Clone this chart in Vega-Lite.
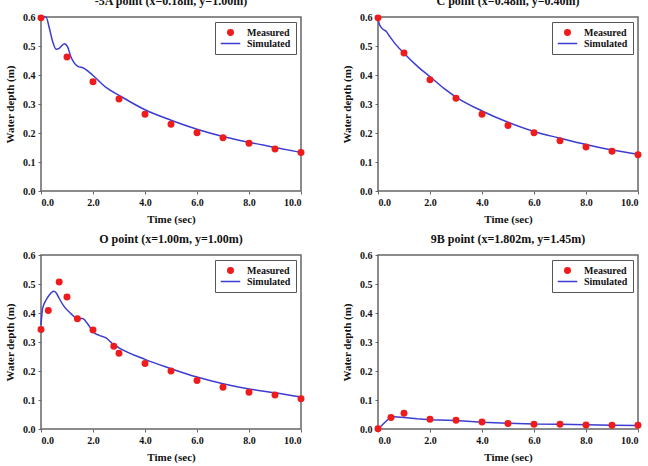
{
  "$schema": "https://vega.github.io/schema/vega-lite/v6.json",
  "padding": {"left": 3, "top": -6, "right": 0, "bottom": 0},
  "background": "white",
  "data": {
    "values": [
      {"panel": "-5A", "series": "Measured", "t": 0, "depth": 0.597},
      {"panel": "-5A", "series": "Measured", "t": 1, "depth": 0.462},
      {"panel": "-5A", "series": "Measured", "t": 2, "depth": 0.377},
      {"panel": "-5A", "series": "Measured", "t": 3, "depth": 0.317},
      {"panel": "-5A", "series": "Measured", "t": 4, "depth": 0.265},
      {"panel": "-5A", "series": "Measured", "t": 5, "depth": 0.23},
      {"panel": "-5A", "series": "Measured", "t": 6, "depth": 0.201},
      {"panel": "-5A", "series": "Measured", "t": 7, "depth": 0.184},
      {"panel": "-5A", "series": "Measured", "t": 8, "depth": 0.165},
      {"panel": "-5A", "series": "Measured", "t": 9, "depth": 0.145},
      {"panel": "-5A", "series": "Measured", "t": 10, "depth": 0.133},

      {"panel": "C", "series": "Measured", "t": 0, "depth": 0.597},
      {"panel": "C", "series": "Measured", "t": 1, "depth": 0.476},
      {"panel": "C", "series": "Measured", "t": 2, "depth": 0.384},
      {"panel": "C", "series": "Measured", "t": 3, "depth": 0.32},
      {"panel": "C", "series": "Measured", "t": 4, "depth": 0.265},
      {"panel": "C", "series": "Measured", "t": 5, "depth": 0.226},
      {"panel": "C", "series": "Measured", "t": 6, "depth": 0.201},
      {"panel": "C", "series": "Measured", "t": 7, "depth": 0.173},
      {"panel": "C", "series": "Measured", "t": 8, "depth": 0.152},
      {"panel": "C", "series": "Measured", "t": 9, "depth": 0.137},
      {"panel": "C", "series": "Measured", "t": 10, "depth": 0.125},

      {"panel": "O", "series": "Measured", "t": 0, "depth": 0.343},
      {"panel": "O", "series": "Measured", "t": 0.28, "depth": 0.409},
      {"panel": "O", "series": "Measured", "t": 0.7, "depth": 0.507},
      {"panel": "O", "series": "Measured", "t": 1.0, "depth": 0.455},
      {"panel": "O", "series": "Measured", "t": 1.4, "depth": 0.38},
      {"panel": "O", "series": "Measured", "t": 2.0, "depth": 0.341},
      {"panel": "O", "series": "Measured", "t": 2.8, "depth": 0.285},
      {"panel": "O", "series": "Measured", "t": 3.0, "depth": 0.261},
      {"panel": "O", "series": "Measured", "t": 4, "depth": 0.226},
      {"panel": "O", "series": "Measured", "t": 5, "depth": 0.2},
      {"panel": "O", "series": "Measured", "t": 6, "depth": 0.167},
      {"panel": "O", "series": "Measured", "t": 7, "depth": 0.144},
      {"panel": "O", "series": "Measured", "t": 8, "depth": 0.127},
      {"panel": "O", "series": "Measured", "t": 9, "depth": 0.117},
      {"panel": "O", "series": "Measured", "t": 10, "depth": 0.104},

      {"panel": "9B", "series": "Measured", "t": 0, "depth": 0.001},
      {"panel": "9B", "series": "Measured", "t": 0.5, "depth": 0.04},
      {"panel": "9B", "series": "Measured", "t": 1, "depth": 0.054},
      {"panel": "9B", "series": "Measured", "t": 2, "depth": 0.034},
      {"panel": "9B", "series": "Measured", "t": 3, "depth": 0.03},
      {"panel": "9B", "series": "Measured", "t": 4, "depth": 0.024},
      {"panel": "9B", "series": "Measured", "t": 5, "depth": 0.019},
      {"panel": "9B", "series": "Measured", "t": 6, "depth": 0.016},
      {"panel": "9B", "series": "Measured", "t": 7, "depth": 0.016},
      {"panel": "9B", "series": "Measured", "t": 8, "depth": 0.014},
      {"panel": "9B", "series": "Measured", "t": 9, "depth": 0.013},
      {"panel": "9B", "series": "Measured", "t": 10, "depth": 0.013},

      {"panel": "-5A", "series": "Simulated", "t": 0, "depth": 0.6},
      {"panel": "-5A", "series": "Simulated", "t": 0.19, "depth": 0.6},
      {"panel": "-5A", "series": "Simulated", "t": 0.32, "depth": 0.562},
      {"panel": "-5A", "series": "Simulated", "t": 0.45, "depth": 0.515},
      {"panel": "-5A", "series": "Simulated", "t": 0.58, "depth": 0.489},
      {"panel": "-5A", "series": "Simulated", "t": 0.7, "depth": 0.492},
      {"panel": "-5A", "series": "Simulated", "t": 0.9, "depth": 0.508},
      {"panel": "-5A", "series": "Simulated", "t": 1.02, "depth": 0.498},
      {"panel": "-5A", "series": "Simulated", "t": 1.15, "depth": 0.463},
      {"panel": "-5A", "series": "Simulated", "t": 1.4, "depth": 0.431},
      {"panel": "-5A", "series": "Simulated", "t": 1.66, "depth": 0.423},
      {"panel": "-5A", "series": "Simulated", "t": 1.98, "depth": 0.4},
      {"panel": "-5A", "series": "Simulated", "t": 2.5, "depth": 0.357},
      {"panel": "-5A", "series": "Simulated", "t": 3, "depth": 0.33},
      {"panel": "-5A", "series": "Simulated", "t": 4, "depth": 0.28},
      {"panel": "-5A", "series": "Simulated", "t": 5, "depth": 0.244},
      {"panel": "-5A", "series": "Simulated", "t": 6, "depth": 0.213},
      {"panel": "-5A", "series": "Simulated", "t": 7, "depth": 0.188},
      {"panel": "-5A", "series": "Simulated", "t": 8, "depth": 0.168},
      {"panel": "-5A", "series": "Simulated", "t": 9, "depth": 0.15},
      {"panel": "-5A", "series": "Simulated", "t": 10, "depth": 0.133},

      {"panel": "C", "series": "Simulated", "t": 0, "depth": 0.597},
      {"panel": "C", "series": "Simulated", "t": 0.06, "depth": 0.573},
      {"panel": "C", "series": "Simulated", "t": 0.19, "depth": 0.558},
      {"panel": "C", "series": "Simulated", "t": 0.32, "depth": 0.55},
      {"panel": "C", "series": "Simulated", "t": 0.45, "depth": 0.533},
      {"panel": "C", "series": "Simulated", "t": 0.64, "depth": 0.51},
      {"panel": "C", "series": "Simulated", "t": 1, "depth": 0.475},
      {"panel": "C", "series": "Simulated", "t": 1.53, "depth": 0.429},
      {"panel": "C", "series": "Simulated", "t": 2, "depth": 0.394},
      {"panel": "C", "series": "Simulated", "t": 2.55, "depth": 0.353},
      {"panel": "C", "series": "Simulated", "t": 3, "depth": 0.324},
      {"panel": "C", "series": "Simulated", "t": 4, "depth": 0.276},
      {"panel": "C", "series": "Simulated", "t": 5, "depth": 0.237},
      {"panel": "C", "series": "Simulated", "t": 6, "depth": 0.205},
      {"panel": "C", "series": "Simulated", "t": 7, "depth": 0.182},
      {"panel": "C", "series": "Simulated", "t": 8, "depth": 0.16},
      {"panel": "C", "series": "Simulated", "t": 9, "depth": 0.141},
      {"panel": "C", "series": "Simulated", "t": 10, "depth": 0.127},

      {"panel": "O", "series": "Simulated", "t": 0, "depth": 0.358},
      {"panel": "O", "series": "Simulated", "t": 0.06, "depth": 0.415},
      {"panel": "O", "series": "Simulated", "t": 0.19, "depth": 0.444},
      {"panel": "O", "series": "Simulated", "t": 0.32, "depth": 0.462},
      {"panel": "O", "series": "Simulated", "t": 0.49, "depth": 0.475},
      {"panel": "O", "series": "Simulated", "t": 0.58, "depth": 0.47},
      {"panel": "O", "series": "Simulated", "t": 0.7, "depth": 0.45},
      {"panel": "O", "series": "Simulated", "t": 0.9, "depth": 0.421},
      {"panel": "O", "series": "Simulated", "t": 1.15, "depth": 0.398},
      {"panel": "O", "series": "Simulated", "t": 1.4, "depth": 0.381},
      {"panel": "O", "series": "Simulated", "t": 1.6, "depth": 0.381},
      {"panel": "O", "series": "Simulated", "t": 1.79, "depth": 0.363},
      {"panel": "O", "series": "Simulated", "t": 2.05, "depth": 0.331},
      {"panel": "O", "series": "Simulated", "t": 2.24, "depth": 0.323},
      {"panel": "O", "series": "Simulated", "t": 2.5, "depth": 0.314},
      {"panel": "O", "series": "Simulated", "t": 2.75, "depth": 0.294},
      {"panel": "O", "series": "Simulated", "t": 3, "depth": 0.28},
      {"panel": "O", "series": "Simulated", "t": 4, "depth": 0.24},
      {"panel": "O", "series": "Simulated", "t": 5, "depth": 0.208},
      {"panel": "O", "series": "Simulated", "t": 6, "depth": 0.179},
      {"panel": "O", "series": "Simulated", "t": 7, "depth": 0.156},
      {"panel": "O", "series": "Simulated", "t": 8, "depth": 0.138},
      {"panel": "O", "series": "Simulated", "t": 9, "depth": 0.125},
      {"panel": "O", "series": "Simulated", "t": 10, "depth": 0.11},

      {"panel": "9B", "series": "Simulated", "t": 0, "depth": 0},
      {"panel": "9B", "series": "Simulated", "t": 0.5, "depth": 0.043},
      {"panel": "9B", "series": "Simulated", "t": 1, "depth": 0.04},
      {"panel": "9B", "series": "Simulated", "t": 1.5, "depth": 0.035},
      {"panel": "9B", "series": "Simulated", "t": 2, "depth": 0.032},
      {"panel": "9B", "series": "Simulated", "t": 3, "depth": 0.029},
      {"panel": "9B", "series": "Simulated", "t": 4, "depth": 0.023},
      {"panel": "9B", "series": "Simulated", "t": 5, "depth": 0.02},
      {"panel": "9B", "series": "Simulated", "t": 6, "depth": 0.017},
      {"panel": "9B", "series": "Simulated", "t": 7, "depth": 0.016},
      {"panel": "9B", "series": "Simulated", "t": 8, "depth": 0.015},
      {"panel": "9B", "series": "Simulated", "t": 9, "depth": 0.013},
      {"panel": "9B", "series": "Simulated", "t": 10, "depth": 0.012}
    ]
  },
  "columns": 2,
  "spacing": {"column": 32, "row": 7},
  "concat": [
    {
      "title": "-5A point (x=0.18m, y=1.00m)",
      "width": 260, "height": 174,
      "encoding": {
        "x": {"field": "t", "type": "quantitative", "title": "Time (sec)", "scale": {"domain": [0, 10], "nice": false}, "axis": {"values": [0, 2, 4, 6, 8, 10], "format": ".1f"}},
        "y": {"field": "depth", "type": "quantitative", "title": "Water depth (m)", "scale": {"domain": [0, 0.6], "nice": false}, "axis": {"values": [0, 0.1, 0.2, 0.3, 0.4, 0.5, 0.6], "format": ".1f"}}
      },
      "layer": [
        {
          "transform": [{"filter": "datum.panel === '-5A' && datum.series === 'Simulated'"}],
          "mark": {"type": "line", "stroke": "#3c3cd2", "strokeWidth": 1.5, "interpolate": "monotone"}
        },
        {
          "transform": [{"filter": "datum.panel === '-5A' && datum.series === 'Measured'"}],
          "mark": {"type": "point", "filled": true, "strokeWidth": 1.5, "opacity": 1},
          "encoding": {
            "fill": {"field": "series", "type": "nominal", "scale": {"domain": ["Measured", "Simulated"], "range": ["#ee1c1c", "#3c3cd2"]}, "legend": {"title": null}},
            "stroke": {"field": "series", "type": "nominal", "scale": {"domain": ["Measured", "Simulated"], "range": ["#ee1c1c", "#3c3cd2"]}, "legend": {"title": null}},
            "shape": {"field": "series", "type": "nominal", "scale": {"domain": ["Measured", "Simulated"], "range": ["circle", "stroke"]}, "legend": {"title": null}},
            "size": {"field": "series", "type": "nominal", "scale": {"domain": ["Measured", "Simulated"], "range": [30, 380]}, "legend": {"title": null}}
          }
        }
      ]
    },
    {
      "title": "C point (x=0.48m, y=0.40m)",
      "width": 260, "height": 174,
      "encoding": {
        "x": {"field": "t", "type": "quantitative", "title": "Time (sec)", "scale": {"domain": [0, 10], "nice": false}, "axis": {"values": [0, 2, 4, 6, 8, 10], "format": ".1f"}},
        "y": {"field": "depth", "type": "quantitative", "title": "Water depth (m)", "scale": {"domain": [0, 0.6], "nice": false}, "axis": {"values": [0, 0.1, 0.2, 0.3, 0.4, 0.5, 0.6], "format": ".1f"}}
      },
      "layer": [
        {
          "transform": [{"filter": "datum.panel === 'C' && datum.series === 'Simulated'"}],
          "mark": {"type": "line", "stroke": "#3c3cd2", "strokeWidth": 1.5, "interpolate": "monotone"}
        },
        {
          "transform": [{"filter": "datum.panel === 'C' && datum.series === 'Measured'"}],
          "mark": {"type": "point", "filled": true, "strokeWidth": 1.5, "opacity": 1},
          "encoding": {
            "fill": {"field": "series", "type": "nominal", "scale": {"domain": ["Measured", "Simulated"], "range": ["#ee1c1c", "#3c3cd2"]}, "legend": {"title": null}},
            "stroke": {"field": "series", "type": "nominal", "scale": {"domain": ["Measured", "Simulated"], "range": ["#ee1c1c", "#3c3cd2"]}, "legend": {"title": null}},
            "shape": {"field": "series", "type": "nominal", "scale": {"domain": ["Measured", "Simulated"], "range": ["circle", "stroke"]}, "legend": {"title": null}},
            "size": {"field": "series", "type": "nominal", "scale": {"domain": ["Measured", "Simulated"], "range": [30, 380]}, "legend": {"title": null}}
          }
        }
      ]
    },
    {
      "title": "O point (x=1.00m, y=1.00m)",
      "width": 260, "height": 174,
      "encoding": {
        "x": {"field": "t", "type": "quantitative", "title": "Time (sec)", "scale": {"domain": [0, 10], "nice": false}, "axis": {"values": [0, 2, 4, 6, 8, 10], "format": ".1f"}},
        "y": {"field": "depth", "type": "quantitative", "title": "Water depth (m)", "scale": {"domain": [0, 0.6], "nice": false}, "axis": {"values": [0, 0.1, 0.2, 0.3, 0.4, 0.5, 0.6], "format": ".1f"}}
      },
      "layer": [
        {
          "transform": [{"filter": "datum.panel === 'O' && datum.series === 'Simulated'"}],
          "mark": {"type": "line", "stroke": "#3c3cd2", "strokeWidth": 1.5, "interpolate": "monotone"}
        },
        {
          "transform": [{"filter": "datum.panel === 'O' && datum.series === 'Measured'"}],
          "mark": {"type": "point", "filled": true, "strokeWidth": 1.5, "opacity": 1},
          "encoding": {
            "fill": {"field": "series", "type": "nominal", "scale": {"domain": ["Measured", "Simulated"], "range": ["#ee1c1c", "#3c3cd2"]}, "legend": {"title": null}},
            "stroke": {"field": "series", "type": "nominal", "scale": {"domain": ["Measured", "Simulated"], "range": ["#ee1c1c", "#3c3cd2"]}, "legend": {"title": null}},
            "shape": {"field": "series", "type": "nominal", "scale": {"domain": ["Measured", "Simulated"], "range": ["circle", "stroke"]}, "legend": {"title": null}},
            "size": {"field": "series", "type": "nominal", "scale": {"domain": ["Measured", "Simulated"], "range": [30, 380]}, "legend": {"title": null}}
          }
        }
      ]
    },
    {
      "title": "9B point (x=1.802m, y=1.45m)",
      "width": 260, "height": 174,
      "encoding": {
        "x": {"field": "t", "type": "quantitative", "title": "Time (sec)", "scale": {"domain": [0, 10], "nice": false}, "axis": {"values": [0, 2, 4, 6, 8, 10], "format": ".1f"}},
        "y": {"field": "depth", "type": "quantitative", "title": "Water depth (m)", "scale": {"domain": [0, 0.6], "nice": false}, "axis": {"values": [0, 0.1, 0.2, 0.3, 0.4, 0.5, 0.6], "format": ".1f"}}
      },
      "layer": [
        {
          "transform": [{"filter": "datum.panel === '9B' && datum.series === 'Simulated'"}],
          "mark": {"type": "line", "stroke": "#3c3cd2", "strokeWidth": 1.5, "interpolate": "linear"}
        },
        {
          "transform": [{"filter": "datum.panel === '9B' && datum.series === 'Measured'"}],
          "mark": {"type": "point", "filled": true, "strokeWidth": 1.5, "opacity": 1},
          "encoding": {
            "fill": {"field": "series", "type": "nominal", "scale": {"domain": ["Measured", "Simulated"], "range": ["#ee1c1c", "#3c3cd2"]}, "legend": {"title": null}},
            "stroke": {"field": "series", "type": "nominal", "scale": {"domain": ["Measured", "Simulated"], "range": ["#ee1c1c", "#3c3cd2"]}, "legend": {"title": null}},
            "shape": {"field": "series", "type": "nominal", "scale": {"domain": ["Measured", "Simulated"], "range": ["circle", "stroke"]}, "legend": {"title": null}},
            "size": {"field": "series", "type": "nominal", "scale": {"domain": ["Measured", "Simulated"], "range": [30, 380]}, "legend": {"title": null}}
          }
        }
      ]
    }
  ],
  "resolve": {
    "scale": {"fill": "independent", "stroke": "independent", "shape": "independent", "size": "independent"},
    "legend": {"fill": "independent", "stroke": "independent", "shape": "independent", "size": "independent"}
  },
  "config": {
    "font": "Liberation Serif",
    "view": {"stroke": "#666666", "strokeWidth": 1.5},
    "title": {"font": "Liberation Serif", "fontSize": 12, "fontWeight": "bold", "color": "#111111", "offset": 0, "anchor": "middle"},
    "axis": {
      "domain": false,
      "grid": false,
      "tickColor": "#666666",
      "tickSize": 3,
      "tickWidth": 1,
      "labelFont": "Liberation Serif",
      "labelFontSize": 10,
      "labelFontWeight": "bold",
      "labelColor": "#111111",
      "labelPadding": 3,
      "labelOverlap": false,
      "titleFont": "Liberation Serif",
      "titleFontSize": 11,
      "titleFontWeight": "bold",
      "titleColor": "#111111"
    },
    "axisX": {"titlePadding": 6},
    "axisY": {"titlePadding": 7},
    "legend": {
      "orient": "top-right",
      "offset": 5,
      "padding": 5,
      "strokeColor": "#555555",
      "fillColor": "white",
      "labelFont": "Liberation Serif",
      "labelFontSize": 10,
      "labelFontWeight": "bold",
      "labelColor": "#111111",
      "labelOffset": 6,
      "clipHeight": 11,
      "rowPadding": 0,
      "symbolStrokeWidth": 1.5
    }
  }
}
